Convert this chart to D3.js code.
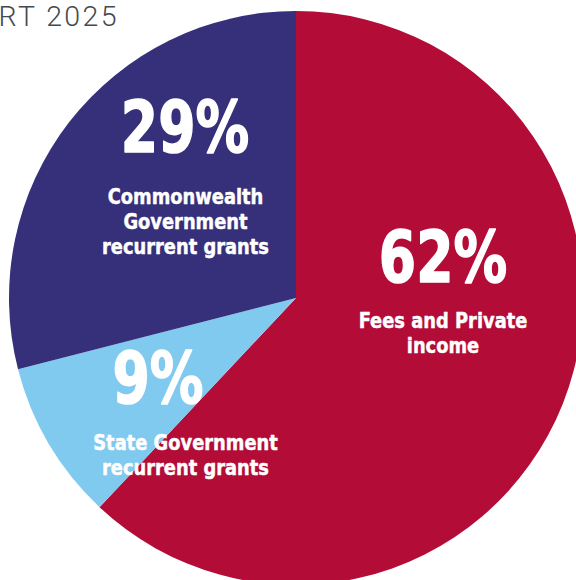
<!DOCTYPE html>
<html>
<head>
<meta charset="utf-8">
<script src="https://cdn.jsdelivr.net/npm/d3@7"></script>
<style>
  html, body { margin: 0; padding: 0; background: #ffffff; overflow: hidden; }
  svg { display: block; }
</style>
</head>
<body>
<svg id="chart" width="576" height="580"></svg>
<script>
// Income sources, share of total (%)
const categories = [
  "Fees and Private income",
  "State Government recurrent grants",
  "Commonwealth Government recurrent grants"
];
const values = [62, 9, 29];
const labelLines = [
  ["Fees and Private", "income"],
  ["State Government", "recurrent grants"],
  ["Commonwealth", "Government", "recurrent grants"]
];
const colors = ["#b20c37", "#80c9ef", "#353079"];
const pageTitle = "ANNUAL REPORT 2025";

const svg = d3.select("#chart");
const cx = 296, cy = 298, radius = 287;

// Running header, partly bled off the left edge of the page
svg.append("text")
  .attr("x", 119)
  .attr("y", 26)
  .attr("text-anchor", "end")
  .attr("font-family", "Roboto, 'Liberation Sans', sans-serif")
  .attr("font-weight", 300)
  .attr("font-size", 28.5)
  .attr("letter-spacing", 2.4)
  .attr("fill", "#3f4b51")
  .text(pageTitle);

const color = d3.scaleOrdinal().domain(categories).range(colors);

const pie = d3.pie()
  .sort(null)
  .value((d, i) => values[i]);

const arc = d3.arc().innerRadius(0).outerRadius(radius);

const g = svg.append("g").attr("transform", `translate(${cx},${cy})`);

const arcs = pie(categories);

g.selectAll("path.slice")
  .data(arcs)
  .join("path")
  .attr("class", "slice")
  .attr("d", arc)
  .attr("fill", d => color(d.data));

// Label anchors (page coordinates): percentage centre/baseline, caption centre/first baseline
const labelAnchor = [
  { pctX: 443, pctY: 282, x: 443, y: 328 },
  { pctX: 158, pctY: 403, x: 185.5, y: 450 },
  { pctX: 185, pctY: 152, x: 185.5, y: 204 }
];
const lineHeight = 25;

// Condensed heavy lettering: a bold face squeezed horizontally, with a thin
// outline in the same colour to fatten the strokes
const pctSqueeze = 0.755;
const textSqueeze = 0.82;

const labels = svg.append("g")
  .attr("font-family", "'DejaVu Sans', 'Liberation Sans', sans-serif")
  .attr("font-weight", "bold")
  .attr("fill", "#ffffff")
  .attr("stroke", "#ffffff")
  .attr("stroke-linejoin", "round")
  .attr("text-anchor", "middle");

arcs.forEach((a, i) => {
  const pos = labelAnchor[i];
  labels.append("text")
    .attr("transform", `translate(${pos.pctX},${pos.pctY}) scale(${pctSqueeze},1)`)
    .attr("font-size", 71)
    .attr("stroke-width", 1.6)
    .text(d3.format(".0f")(values[i]) + "%");
  labelLines[i].forEach((line, j) => {
    labels.append("text")
      .attr("transform", `translate(${pos.x},${pos.y + j * lineHeight}) scale(${textSqueeze},1)`)
      .attr("font-size", 21.8)
      .attr("stroke-width", 0.5)
      .text(line);
  });
});
</script>
</body>
</html>
